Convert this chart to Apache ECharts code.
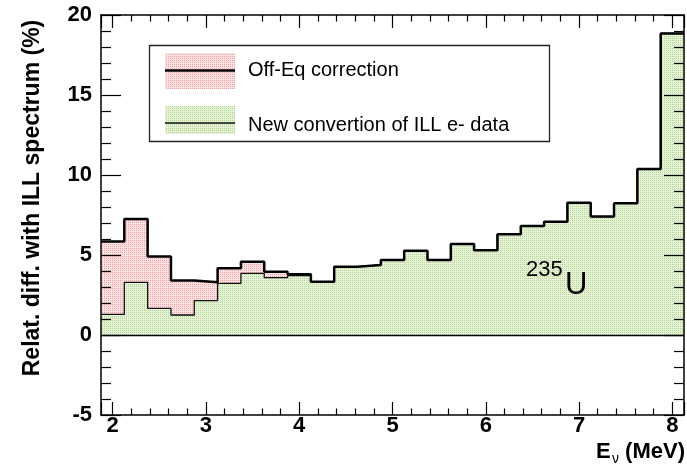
<!DOCTYPE html>
<html>
<head>
<meta charset="utf-8">
<script src="https://cdn.jsdelivr.net/npm/echarts@6/dist/echarts.min.js"></script>
<style>
  html, body { margin: 0; padding: 0; background: #fff; }
  #chart { width: 687px; height: 467px; }
</style>
</head>
<body>
<div id="chart"></div>
<script>
// Neutrino energy bins (MeV): centres and common width
const binCenters = [2.0, 2.25, 2.5, 2.75, 3.0, 3.25, 3.5, 3.75, 4.0, 4.25, 4.5, 4.75,
                    5.0, 5.25, 5.5, 5.75, 6.0, 6.25, 6.5, 6.75, 7.0, 7.25, 7.5, 7.75, 8.0];
const binWidth = 0.25;

// Relative difference with the ILL spectrum (%) per bin
const offEqCorrection = [5.85, 7.25, 4.9, 3.4, 3.29, 4.17, 4.58, 3.96, 3.8, 3.33, 4.27, 4.38,
                         4.69, 5.27, 4.69, 5.69, 5.29, 6.29, 6.81, 7.08, 8.27, 7.4, 8.23, 10.38, 18.85];
const newConversion   = [1.29, 3.29, 1.67, 1.25, 2.15, 3.23, 3.85, 3.58, 3.71, 3.33, 4.27, 4.38,
                         4.69, 5.27, 4.69, 5.69, 5.29, 6.29, 6.81, 7.08, 8.27, 7.4, 8.23, 10.38, 18.85];

const xRange = [1.875, 8.125];
const yRange = [-5, 20];
const yStep = 5;

const legendLabels = ['Off-Eq correction', 'New convertion of ILL e- data'];
const yTitle = 'Relat. diff. with ILL spectrum (%)';

const FONT = '"Liberation Sans", Arial, Helvetica, sans-serif';

// Dotted fill patterns in the style of ROOT fill styles
function dotPattern(dark, light) {
  const c = document.createElement('canvas');
  c.width = 2; c.height = 2;
  const g = c.getContext('2d');
  g.fillStyle = light; g.fillRect(0, 0, 2, 2);
  g.fillStyle = dark; g.fillRect(0, 0, 1, 1);
  return c;
}
const redFill = { image: dotPattern('rgb(240,160,160)', 'rgb(252,226,226)'), repeat: 'repeat' };
const greenFill = { image: dotPattern('rgb(178,215,142)', 'rgb(230,242,216)'), repeat: 'repeat' };

// Histogram outline: a point at each low bin edge plus the final high edge
function stepPoints(values) {
  const pts = binCenters.map((c, i) => [c - binWidth / 2, values[i]]);
  const last = binCenters.length - 1;
  pts.push([binCenters[last] + binWidth / 2, values[last]]);
  return pts;
}

const chart = echarts.init(document.getElementById('chart'), null, { renderer: 'canvas' });

const frameLine = { show: true, onZero: false, lineStyle: { color: '#000', width: 1.5 } };
const tickStyle = { color: '#000', width: 1.2 };

function xAxisDef(position, withLabels) {
  return {
    type: 'value', position: position, min: xRange[0], max: xRange[1],
    splitNumber: 5, z: 10,
    axisLine: frameLine,
    axisTick: { show: true, inside: true, length: 13, lineStyle: tickStyle },
    minorTick: { show: true, splitNumber: 5, length: 6.5, lineStyle: tickStyle },
    splitLine: { show: false },
    minorSplitLine: { show: false },
    axisLabel: withLabels ? {
      show: true, showMinLabel: false, showMaxLabel: false, margin: 0,
      color: '#000', fontFamily: FONT, fontWeight: 'bold', fontSize: 22,
      formatter: v => String(Math.round(v))
    } : { show: false }
  };
}

function yAxisDef(position, withLabels) {
  return {
    type: 'value', position: position, min: yRange[0], max: yRange[1], interval: yStep,
    z: 10,
    axisLine: frameLine,
    axisTick: { show: true, inside: true, length: 20, lineStyle: tickStyle },
    minorTick: { show: true, splitNumber: 5, length: 10, lineStyle: tickStyle },
    splitLine: { show: false },
    minorSplitLine: { show: false },
    axisLabel: withLabels ? {
      color: '#000', fontFamily: FONT, fontWeight: 'bold', fontSize: 22, margin: 9
    } : { show: false }
  };
}

const option = {
  animation: false,
  backgroundColor: '#fff',
  grid: { left: 101, right: 3, top: 15, bottom: 52, containLabel: false },
  xAxis: [xAxisDef('bottom', true), xAxisDef('top', false)],
  yAxis: [yAxisDef('left', true), yAxisDef('right', false)],
  series: [
    {
      name: legendLabels[0] + ' fill',
      type: 'line', step: 'end', xAxisIndex: 0, yAxisIndex: 0,
      data: stepPoints(offEqCorrection),
      symbol: 'none', silent: true, z: 1,
      lineStyle: { width: 0, opacity: 0 },
      areaStyle: { color: redFill, opacity: 1 }
    },
    {
      name: legendLabels[1],
      type: 'line', step: 'end', xAxisIndex: 0, yAxisIndex: 0,
      data: stepPoints(newConversion),
      symbol: 'none', silent: true, z: 2,
      lineStyle: { color: '#111', width: 1.3 },
      areaStyle: { color: greenFill, opacity: 1 },
      markLine: {
        silent: true, symbol: 'none', label: { show: false },
        lineStyle: { color: '#000', width: 1.3, type: 'solid' },
        data: [{ yAxis: 0 }]
      }
    },
    {
      name: legendLabels[0],
      type: 'line', step: 'end', xAxisIndex: 0, yAxisIndex: 0,
      data: stepPoints(offEqCorrection),
      symbol: 'none', silent: true, z: 3,
      lineStyle: { color: '#000', width: 2.5 }
    }
  ],
  graphic: [
    // Legend box
    { type: 'rect', shape: { x: 149.5, y: 45.5, width: 400, height: 96 },
      style: { fill: '#fff', stroke: '#222', lineWidth: 1.3 }, z: 20 },
    { type: 'rect', shape: { x: 165, y: 53, width: 70, height: 36 },
      style: { fill: redFill, stroke: null }, z: 21 },
    { type: 'line', shape: { x1: 165, y1: 70.5, x2: 235, y2: 70.5 },
      style: { stroke: '#000', lineWidth: 2.5 }, z: 22 },
    { type: 'rect', shape: { x: 165, y: 106, width: 70, height: 28 },
      style: { fill: greenFill, stroke: null }, z: 21 },
    { type: 'line', shape: { x1: 165, y1: 123, x2: 235, y2: 123 },
      style: { stroke: '#111', lineWidth: 1.3 }, z: 22 },
    { type: 'text', x: 248, y: 70.5, z: 22,
      style: { text: legendLabels[0], font: '20px ' + FONT, fill: '#000',
               textAlign: 'left', textVerticalAlign: 'middle', align: 'left', verticalAlign: 'middle' } },
    { type: 'text', x: 248, y: 125, z: 22,
      style: { text: legendLabels[1], font: '20px ' + FONT, fill: '#000',
               textAlign: 'left', textVerticalAlign: 'middle', align: 'left', verticalAlign: 'middle' } },
    // Y axis title
    { type: 'text', x: 33, y: 198, rotation: Math.PI / 2, z: 22,
      style: { text: yTitle, font: 'bold 23px ' + FONT, fill: '#000',
               textAlign: 'center', textVerticalAlign: 'middle', align: 'center', verticalAlign: 'middle' } },
    // X axis title: E_nu (MeV)
    { type: 'text', x: 685, y: 452, z: 22,
      style: { text: '(MeV)', font: 'bold 22px ' + FONT, fill: '#000',
               textAlign: 'right', textVerticalAlign: 'middle', align: 'right', verticalAlign: 'middle' } },
    { type: 'text', x: 596, y: 452, z: 22,
      style: { text: 'E', font: 'bold 22px ' + FONT, fill: '#000',
               textAlign: 'left', textVerticalAlign: 'middle', align: 'left', verticalAlign: 'middle' } },
    { type: 'text', x: 612, y: 459, z: 22,
      style: { text: 'ν', font: '14px ' + FONT, fill: '#000',
               textAlign: 'left', textVerticalAlign: 'middle', align: 'left', verticalAlign: 'middle' } },
    // Isotope label
    { type: 'text', x: 526, y: 270, z: 22,
      style: { text: '235', font: '22px ' + FONT, fill: '#000',
               textAlign: 'left', textVerticalAlign: 'middle', align: 'left', verticalAlign: 'middle' } },
    { type: 'text', x: 565, y: 285, z: 22,
      style: { text: 'U', font: '31px ' + FONT, fill: '#000',
               textAlign: 'left', textVerticalAlign: 'middle', align: 'left', verticalAlign: 'middle' } }
  ]
};

chart.setOption(option);
</script>
</body>
</html>
